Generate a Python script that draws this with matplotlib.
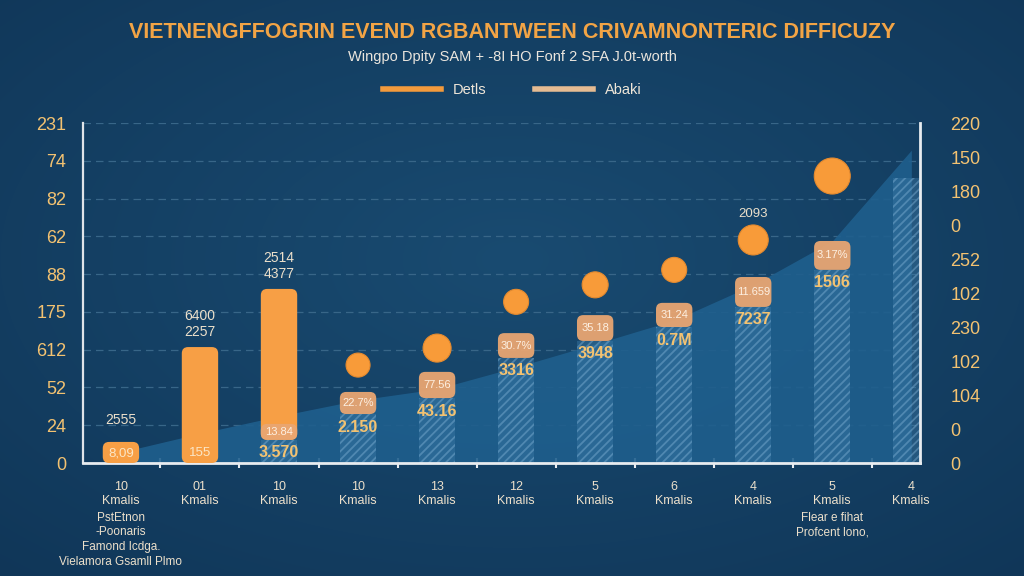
import numpy as np
import matplotlib
matplotlib.use('Agg')
import matplotlib.pyplot as plt
from matplotlib.patches import FancyBboxPatch
from matplotlib.lines import Line2D

plt.rcParams['font.family'] = ['Liberation Sans', 'DejaVu Sans']
plt.rcParams['hatch.linewidth'] = 1.3

# ---------------- data ----------------
title = "VIETNENGFFOGRIN EVEND RGBANTWEEN CRIVAMNONTERIC DIFFICUZY"
subtitle = "Wingpo Dpity SAM + -8I HO Fonf 2 SFA J.0t-worth"
legend_labels = ["Detls", "Abaki"]

x_labels = ["10\nKmalis", "01\nKmalis", "10\nKmalis", "10\nKmalis", "13\nKmalis",
            "12\nKmalis", "5\nKmalis", "6\nKmalis", "4\nKmalis", "5\nKmalis", "4\nKmalis"]
x_notes = {0: "PstEtnon\n-Poonaris\nFamond Icdga.\nVielamora Gsamll Plmo",
           9: "Flear e fihat\nProfcent lono,"}
left_tick_labels = ["0", "24", "52", "612", "175", "88", "62", "82", "74", "231"]
right_tick_labels = ["0", "0", "104", "102", "230", "102", "252", "0", "180", "150", "220"]

# orange bars (categories 0-2)
orange_base = [0, 0, 6.8]
orange_top = [6.2, 34.1, 51.2]
orange_above = ["2555", "6400\n2257", "2514\n4377"]
orange_inside = ["8,09", "155"]

# blue hatched columns (all categories)
hatched_top = [0, 0, 6.8, 14.4, 19.1, 30.9, 35.9, 40.0, 45.9, 56.8, 83.8]

# tan value boxes (categories 2-9)
box_bottom = [6.8, 14.4, 19.1, 30.9, 35.9, 40.0, 45.9, 56.8]
box_top = [11.5, 20.9, 26.8, 38.2, 43.5, 47.1, 54.7, 65.3]
box_text = ["13.84", "22.7%", "77.56", "30.7%", "35.18", "31.24", "11.659", "3.17%"]
gold_text = ["3.570", "2.150", "43.16", "3316", "3948", "0.7M", "7237", "1506"]

# orange dots (categories 3-9)
dot_values = [28.8, 33.8, 47.4, 52.4, 56.8, 65.6, 84.4]
dot_diam_px = [24, 28, 25, 26, 25, 30, 36]
dot8_label = "2093"

# blue area
area_values = [3.2, 8.7, 13.8, 18.5, 21.8, 28.2, 35.0, 42.0, 52.4, 65.3, 92.0]

# ---------------- colours ----------------
ORANGE = '#f79f45'
TAN = '#e9a672'
GOLD = '#f3c271'
CREAM = '#ece0cb'

W, H = 1024, 576
fig = plt.figure(figsize=(W / 100, H / 100), dpi=100)

# background gradient
bgax = fig.add_axes([0, 0, 1, 1], zorder=-10)
yy, xx = np.mgrid[0:H, 0:W]
d = np.sqrt(((xx - W * 0.5) / W) ** 2 + ((yy - H * 0.45) / H) ** 2)
t = np.clip(d / 0.75, 0, 1)[..., None]
c_center = np.array([0x19, 0x4b, 0x71]) / 255
c_edge = np.array([0x10, 0x36, 0x58]) / 255
img = c_center * (1 - t) + c_edge * t
bgax.imshow(img, aspect='auto', extent=[0, 1, 0, 1])
bgax.axis('off')

L, R, T, B = 83, 920, 123, 463
ax = fig.add_axes([L / W, (H - B) / H, (R - L) / W, (B - T) / H])
ax.patch.set_alpha(0)
x = np.arange(len(x_labels))
ax.set_xlim(-0.48, 10.11)
ax.set_ylim(0, 100)

# aspect for rounded boxes
px_x = (10.11 + 0.48) / (R - L)
px_y = 100 / (B - T)
ASP = px_y / px_x

# grid
ax.set_yticks(np.linspace(0, 100, 10))
ax.set_yticklabels(left_tick_labels)
ax.yaxis.grid(True, ls=(0, (6, 4)), color='#386688', lw=0.9, zorder=0)
ax.set_axisbelow(True)
ax.tick_params(axis='y', length=0, pad=12, labelsize=13, labelcolor=GOLD)

# area
ax.fill_between(x, 0, area_values, color='#1f5f8d', alpha=0.9, lw=0, zorder=1)

# hatched columns
ax.bar(x, hatched_top, width=0.46, color='#3a78a5', alpha=0.45, hatch='////',
       edgecolor='#7fb0d4', lw=0, zorder=2)


def rounded(bars, rs=0.07, **kw):
    out = []
    for p in bars:
        fp = FancyBboxPatch((p.get_x(), p.get_y()), p.get_width(), p.get_height(),
                            boxstyle=f'round,pad=0,rounding_size={rs}',
                            mutation_aspect=ASP, **kw)
        p.remove()
        ax.add_patch(fp)
        out.append(fp)
    return out


# orange bars
ob = ax.bar(x[:3], np.array(orange_top) - np.array(orange_base), bottom=orange_base,
            width=0.46, color=ORANGE)
rounded(ob, rs=0.08, facecolor=ORANGE, edgecolor='none', zorder=4)

# tan boxes
bb = ax.bar(x[2:10], np.array(box_top) - np.array(box_bottom), bottom=box_bottom,
            width=0.46, color=TAN)
rounded(bb, rs=0.08, facecolor=TAN, edgecolor='none', alpha=0.95, zorder=5)

# dots
ax.scatter(x[3:10], dot_values, s=(np.array(dot_diam_px) * 0.72) ** 2,
           color='#f89b39', edgecolor='#e58a2e', lw=0.8, zorder=6)

# texts on orange bars
for i, (top, s) in enumerate(zip(orange_top, orange_above)):
    ax.annotate(s, (x[i], top), xytext=(0, 6 if i else 11), textcoords='offset points',
                ha='center', va='bottom', fontsize=10, color=CREAM, linespacing=1.15, zorder=7)
for i, s in enumerate(orange_inside):
    ax.annotate(s, (x[i], 0), xytext=(0, 7), textcoords='offset points',
                ha='center', va='center', fontsize=9.5, color='#fbe6c6', zorder=7)

# texts in boxes and below
for j, (b0, b1, s, g) in enumerate(zip(box_bottom, box_top, box_text, gold_text)):
    i = j + 2
    ax.text(x[i], (b0 + b1) / 2, s, ha='center', va='center', fontsize=8,
            color='#fdf0e2', zorder=7)
    ax.annotate(g, (x[i], b0), xytext=(0, -4), textcoords='offset points',
                ha='center', va='top', fontsize=11.5, fontweight='bold', color=GOLD, zorder=7)

ax.annotate(dot8_label, (x[8], dot_values[5]), xytext=(0, 19), textcoords='offset points',
            ha='center', va='center', fontsize=9.5, color=CREAM, zorder=7)

# x axis
ax.set_xticks(x)
ax.set_xticklabels(x_labels, fontsize=9, color=CREAM, linespacing=1.2, va='top')
ax.tick_params(axis='x', length=0, pad=13)
ax.set_xticks(x[:-1] + 0.5, minor=True)
ax.tick_params(axis='x', which='minor', direction='inout', length=7, width=1.5, color='#e8ecf0')

for i, note in x_notes.items():
    ax.annotate(note, (x[i], 0), xytext=(0, -35), textcoords='offset points',
                ha='center', va='top', fontsize=8.5, color=CREAM, linespacing=1.3,
                annotation_clip=False)

for s in ['top', 'right']:
    ax.spines[s].set_visible(False)
ax.spines['left'].set_color('#dfe3e8')
ax.spines['left'].set_linewidth(1.6)
ax.spines['bottom'].set_color('#e8ecf0')
ax.spines['bottom'].set_linewidth(2)

# right axis
ax2 = ax.twinx()
ax2.set_ylim(0, 100)
ax2.set_yticks(np.linspace(0, 100, 11))
ax2.set_yticklabels(right_tick_labels)
ax2.tick_params(axis='y', length=0, pad=22, labelsize=13, labelcolor=GOLD)
for s in ['top', 'left', 'bottom']:
    ax2.spines[s].set_visible(False)
ax2.spines['right'].set_color('#e8ecf0')
ax2.spines['right'].set_linewidth(2)

# title, subtitle, legend
fig.text(0.5, 1 - 32 / H, title, ha='center', va='center', fontsize=15.5,
         fontweight='bold', color='#f2a445')
fig.text(0.5, 1 - 57 / H, subtitle, ha='center', va='center', fontsize=10.5, color='#ebe6de')
handles = [Line2D([], [], color='#f39a3c', lw=4), Line2D([], [], color='#e5bb92', lw=4)]
fig.legend(handles, legend_labels, loc='center', bbox_to_anchor=(0.5, 1 - 90 / H), ncol=2,
           frameon=False, handlelength=4, columnspacing=3.3, handletextpad=0.8,
           labelcolor='#efe6d8', fontsize=10.5)

fig.savefig('out.png', dpi=100, facecolor=fig.get_facecolor())
